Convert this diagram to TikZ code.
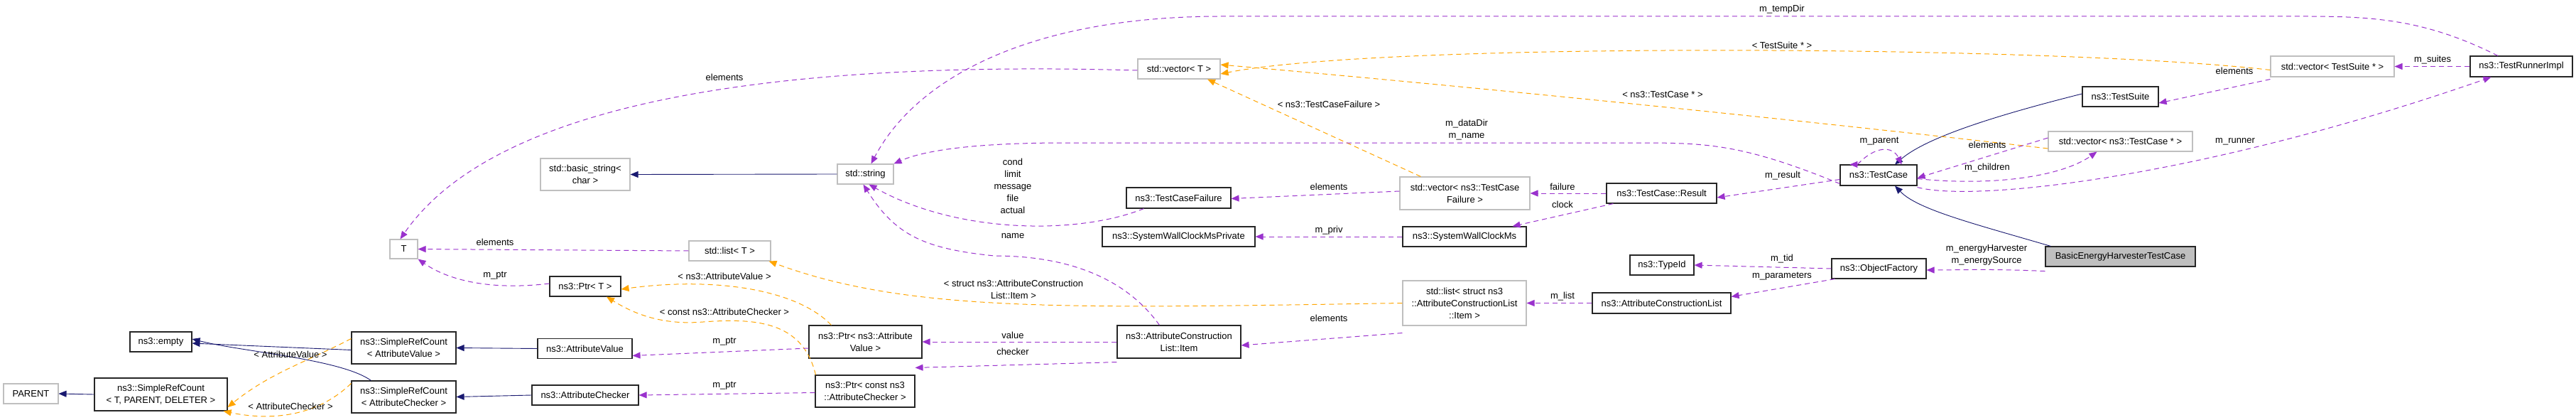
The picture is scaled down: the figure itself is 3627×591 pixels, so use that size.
\documentclass[tikz,border=0pt]{standalone}
\usepackage{fontspec}
\setmainfont{Liberation Sans}
\usetikzlibrary{arrows.meta}
\definecolor{nav}{HTML}{191970}
\definecolor{pur}{HTML}{9A32CD}
\definecolor{org}{HTML}{FFA500}
\begin{document}
\begin{tikzpicture}[x=1pt,y=-1pt,
  font=\fontsize{13}{16}\selectfont,
  box/.style={draw=black!85,line width=1.1pt,inner sep=0pt,align=center,fill=white},
  gbox/.style={draw=black!25,line width=1.1pt,inner sep=0pt,align=center,fill=white},
  tip/.style={-{Triangle[length=11pt,width=9pt]}},
  inh/.style={tip,draw=nav,line width=0.9pt},
  use/.style={tip,draw=pur,line width=1pt,dash pattern=on 7pt off 5pt},
  tpl/.style={tip,draw=org,line width=1pt,dash pattern=on 7pt off 5pt},
  lb/.style={inner sep=0pt,align=center}]
\useasboundingbox (0,0) rectangle (3627,591);
\fill[white] (0,0) rectangle (3627,591);
% nodes
\node[gbox,minimum width=77,minimum height=28] (parent) at (43.5,554) {PARENT};
\node[box,minimum width=187,minimum height=46] (srctpd) at (226.5,555) {ns3::SimpleRefCount\\[1pt]< T, PARENT, DELETER >};
\node[box,minimum width=87,minimum height=28] (empty) at (226.5,481) {ns3::empty};
\node[box,minimum width=147,minimum height=45] (srcav) at (568.5,489.5) {ns3::SimpleRefCount\\[1pt]< AttributeValue >};
\node[box,minimum width=147,minimum height=45] (srcac) at (568.5,558.5) {ns3::SimpleRefCount\\[1pt]< AttributeChecker >};
\node[gbox,minimum width=39,minimum height=27] (T) at (568.5,350.5) {T};
\node[gbox,minimum width=126,minimum height=45] (basic) at (824,245.5) {std::basic\_string<\\[1pt]char >};
\node[box,minimum width=100,minimum height=28] (ptrt) at (824,403) {ns3::Ptr< T >};
\node[box,minimum width=133,minimum height=28] (av) at (823.5,490.5) {ns3::AttributeValue};
\node[box,minimum width=150,minimum height=28] (ac) at (824,556) {ns3::AttributeChecker};
\node[gbox,minimum width=79,minimum height=28] (str) at (1218.5,245) {std::string};
\node[gbox,minimum width=115,minimum height=28] (listt) at (1027.5,353) {std::list< T >};
\node[box,minimum width=159,minimum height=46] (ptrav) at (1218.5,481) {ns3::Ptr< ns3::Attribute\\[1pt]Value >};
\node[box,minimum width=140,minimum height=45] (ptrac) at (1218,550.5) {ns3::Ptr< const ns3\\[1pt]::AttributeChecker >};
\node[gbox,minimum width=116,minimum height=28] (vect) at (1660,97) {std::vector< T >};
\node[box,minimum width=147,minimum height=29] (tcf) at (1659.5,278.5) {ns3::TestCaseFailure};
\node[box,minimum width=215,minimum height=28] (swcmp) at (1659.5,333) {ns3::SystemWallClockMsPrivate};
\node[box,minimum width=174,minimum height=46] (item) at (1660,481) {ns3::AttributeConstruction\\[1pt]List::Item};
\node[gbox,minimum width=183,minimum height=46] (vectcf) at (2062.5,272) {std::vector< ns3::TestCase\\[1pt]Failure >};
\node[box,minimum width=174,minimum height=28] (swcm) at (2062,333) {ns3::SystemWallClockMs};
\node[gbox,minimum width=174,minimum height=63] (lists) at (2062,426.5) {std::list< struct ns3\\[1pt]::AttributeConstructionList\\[1pt]::Item >};
\node[box,minimum width=155,minimum height=28] (result) at (2339.5,272) {ns3::TestCase::Result};
\node[box,minimum width=90,minimum height=28] (typeid) at (2340,373) {ns3::TypeId};
\node[box,minimum width=195,minimum height=29] (acl) at (2339.5,426.5) {ns3::AttributeConstructionList};
\node[box,minimum width=108,minimum height=29] (tc) at (2645,246.5) {ns3::TestCase};
\node[box,minimum width=133,minimum height=28] (of) at (2645.5,378) {ns3::ObjectFactory};
\node[box,minimum width=107,minimum height=28] (ts) at (2985.5,136) {ns3::TestSuite};
\node[gbox,minimum width=203,minimum height=28] (vectc) at (2985.5,199) {std::vector< ns3::TestCase * >};
\node[box,fill=black!25,minimum width=211,minimum height=28] (be) at (2985.5,361) {BasicEnergyHarvesterTestCase};
\node[gbox,minimum width=174,minimum height=29] (vects) at (3284,93.5) {std::vector< TestSuite * >};
\node[box,minimum width=144,minimum height=29] (tri) at (3550,93.5) {ns3::TestRunnerImpl};
% inheritance
\draw[inh] (srctpd.west) -- (parent.east);
\draw[inh] ([yshift=-3pt]srcav.west) -- ([yshift=-2pt]empty.east);
\draw[inh] ([xshift=28pt]srcac.north west) .. controls (480,505) and (340,495) .. ([yshift=4pt]empty.east);
\draw[inh] (av.west) -- (srcav.east);
\draw[inh] (ac.west) -- (srcac.east);
\draw[inh] (str.west) -- (basic.east);
\draw[inh] ([xshift=8pt]be.north west) .. controls (2780,315) and (2700,295) .. ([xshift=23pt]tc.south);
\draw[inh] ([yshift=4pt]ts.west) .. controls (2800,165) and (2710,195) .. ([xshift=23pt]tc.north);
% templates
\draw[tpl] ([yshift=13pt]srcav.west) .. controls (430,510) and (380,525) .. ([yshift=-18pt]srctpd.east);
\node[lb] (l1) at (409,499) {< AttributeValue >};
\draw[tpl] ([yshift=19pt]srcac.west) .. controls (440,592) and (370,590) .. ([xshift=-6pt]srctpd.south east);
\node[lb] (l2) at (409,572) {< AttributeChecker >};
\draw[tpl] ([xshift=32pt]ptrav.north west) .. controls (1120,405) and (1000,390) .. ([yshift=-4pt]ptrt.east);
\node[lb] (l3) at (1020,389) {< ns3::AttributeValue >};
\draw[tpl] ([xshift=1pt]ptrac.north west) .. controls (1130,450) and (1060,448) .. (990,453) .. controls (930,458) and (890,440) .. ([xshift=30pt]ptrt.south);
\node[lb] (l4) at (1020,439) {< const ns3::AttributeChecker >};
\draw[tpl] (lists.west) .. controls (1500,434) and (1280,440) .. ([xshift=-3pt]listt.south east);
\node[lb] (l5) at (1427,407) {< struct ns3::AttributeConstruction\\[1pt]List::Item >};
\draw[tpl] ([xshift=30pt]vectcf.north west) -- ([xshift=40pt]vect.south);
\node[lb] (l6) at (1871,147) {< ns3::TestCaseFailure >};
\draw[tpl] ([yshift=-5pt]vects.west) .. controls (2900,64) and (1950,58) .. ([yshift=-7pt]vect.east);
\node[lb] (l7) at (2509,64) {< TestSuite * >};
\draw[tpl] ([yshift=-10pt]vectc.west) .. controls (2500,165) and (2050,120) .. ([yshift=6pt]vect.east);
\node[lb] (l8) at (2341,133) {< ns3::TestCase * >};
% usage
\draw[use] ([yshift=-2pt]vect.west) .. controls (1100,85) and (700,140) .. ([xshift=-5pt]T.north);
\node[lb] (l9) at (1020,109) {elements};
\draw[use] (listt.west) -- (T.east);
\node[lb] (l10) at (697,341) {elements};
\draw[use] ([yshift=4pt]ptrt.west) .. controls (680,410) and (625,390) .. (T.south east);
\node[lb] (l11) at (697,388) {m\_ptr};
\draw[use] ([xshift=-33pt]tri.north) .. controls (3420,30) and (3350,23) .. (3250,23) -- (1720,23) .. controls (1450,23) and (1290,110) .. ([xshift=8pt]str.north);
\node[lb] (l12) at (2509,13) {m\_tempDir};
\draw[use] ([yshift=-12pt]tc.west) .. controls (2450,201) and (2400,201) .. (2300,201) -- (1500,201) .. controls (1370,201) and (1300,212) .. (str.north east);
\node[lb] (l13) at (2065,183) {m\_dataDir\\[1pt]m\_name};
\draw[use] ([xshift=25pt]tcf.south west) .. controls (1520,330) and (1350,330) .. ([xshift=5pt]str.south);
\node[lb] (l14) at (1426,262) {cond\\[1pt]limit\\[1pt]message\\[1pt]file\\[1pt]actual};
\draw[use] ([xshift=60pt]item.north west) .. controls (1570,370) and (1460,360) .. (1400,360) .. controls (1300,350) and (1260,330) .. ([xshift=-3pt]str.south);
\node[lb] (l15) at (1426,332) {name};
\draw[use] ([yshift=3pt]vectcf.west) -- ([yshift=-1pt]tcf.east);
\node[lb] (l16) at (1871,263) {elements};
\draw[use] (swcm.west) -- (swcmp.east);
\node[lb] (l17) at (1871,324) {m\_priv};
\draw[use] ([yshift=-10pt]lists.south west) -- ([yshift=-5pt]item.east);
\node[lb] (l18) at (1871,448) {elements};
\draw[use] (item.west) -- (ptrav.east);
\node[lb] (l19) at (1426,472) {value};
\draw[use] ([yshift=-5pt]item.south west) -- ([yshift=10pt]ptrac.north east);
\node[lb] (l20) at (1426,495) {checker};
\draw[use] ([yshift=-9pt]ptrav.west) -- ([yshift=-10pt]av.east);
\node[lb] (l21) at (1020,481) {m\_ptr};
\draw[use] ([yshift=-2pt]ptrac.west) -- ([yshift=0pt]ac.east);
\node[lb] (l22) at (1020,543) {m\_ptr};
\draw[use] (result.west) -- (vectcf.east);
\node[lb] (l23) at (2200,263) {failure};
\draw[use] ([xshift=10pt]result.south west) -- ([xshift=-20pt]swcm.north east);
\node[lb] (l24) at (2200,288) {clock};
\draw[use] ([yshift=-6pt]tc.west) -- ([yshift=-6pt]result.east);
\node[lb] (l25) at (2510,247) {m\_result};
\draw[use] ([xshift=25pt]tc.north west) .. controls (2640,205) and (2665,205) .. ([xshift=-22pt]tc.north east) ;
\draw[use] ([xshift=25pt]tc.north west) -- ([xshift=14pt]tc.north west);
\node[lb] (l26) at (2646,199) {m\_parent};
\draw[use] ([yshift=5pt]vectc.west) -- ([yshift=-4pt]tc.east);
\node[lb] (l27) at (2798,204) {elements};
\draw[use] ([yshift=-5pt]tc.east) .. controls (2800,262) and (2900,250) .. ([xshift=-33pt]vectc.south);
\node[lb] (l28) at (2798,236) {m\_children};
\draw[use] ([yshift=-2pt]tc.south east) .. controls (2780,285) and (3100,250) .. ([xshift=30pt]tri.south west);
\node[lb] (l29) at (3147,199) {m\_runner};
\draw[use] ([yshift=-3pt]vects.south west) -- ([yshift=-9pt]ts.east);
\node[lb] (l30) at (3146,100) {elements};
\draw[use] (tri.west) -- (vects.east);
\node[lb] (l31) at (3425,84) {m\_suites};
\draw[use] (of.west) -- (typeid.east);
\node[lb] (l32) at (2509,364) {m\_tid};
\draw[use] ([xshift=5pt]of.south west) -- ([yshift=-6pt]acl.north east);
\node[lb] (l33) at (2509,389) {m\_parameters};
\draw[use] (acl.west) -- (lists.east);
\node[lb] (l34) at (2200,417) {m\_list};
\draw[use] ([yshift=-6pt]be.south west) .. controls (2800,378) and (2760,380) .. ([yshift=-2pt]of.east);
\node[lb] (l35) at (2797,359) {m\_energyHarvester\\[1pt]m\_energySource};
\end{tikzpicture}
\end{document}
